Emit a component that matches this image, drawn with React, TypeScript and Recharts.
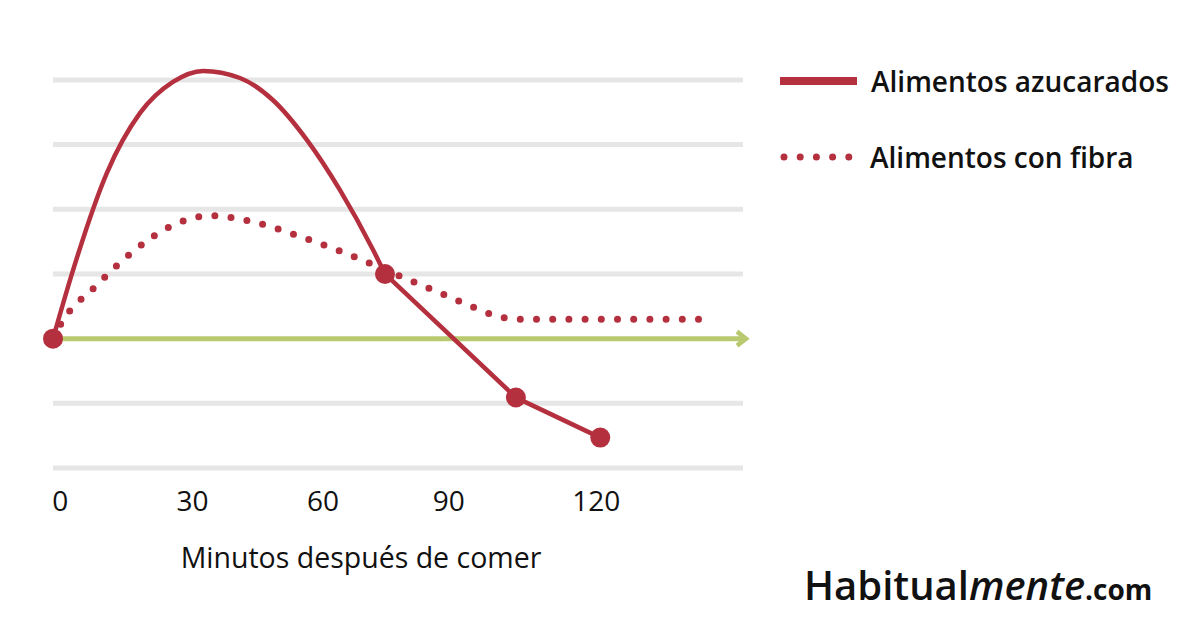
import { LineChart, Line, XAxis, YAxis, ReferenceLine, Label } from "recharts";

const RED = "#b5303e";
const GREEN = "#b8c96f";
const GRID = "#e6e6e6";
const FONT = "'Open Sans', sans-serif";

// minutes after eating vs. blood sugar (green line = baseline 0)
const sugarCurveMinutes = [0, 4.4, 11.8, 19.1, 26.3, 32.9, 41, 48.2, 55.7, 62.9, 70.2, 72.8];
const sugarCurveLevels = [0, 1.06, 2.56, 3.49, 3.97, 4.14, 4.03, 3.69, 3.07, 2.3, 1.37, 1.0];

const sugarDropMinutes = [72.8, 101.5, 120];
const sugarDropLevels = [1.0, -0.91, -1.53];

const fiberMinutes = [0, 1.9, 9.2, 16.9, 25.9, 34.6, 43.6, 53.7, 63.8, 70.4, 77, 83.8, 90.4, 96.9, 101.3, 111.2, 143.2];
const fiberLevels = [0, 0.25, 0.8, 1.31, 1.74, 1.9, 1.81, 1.59, 1.33, 1.14, 0.94, 0.74, 0.54, 0.36, 0.3, 0.3, 0.3];

// tick labels sit where the original drew them
const tickMinutes = [1.6, 30.6, 59.2, 86.8, 119.1];
const tickLabels = ["0", "30", "60", "90", "120"];
const gridLevels = [-2, -1, 1, 2, 3, 4];

const zip = (ms: number[], vs: number[]) => ms.map((m, i) => ({ m, v: vs[i] }));
const sugarCurve = zip(sugarCurveMinutes, sugarCurveLevels);
const sugarDrop = zip(sugarDropMinutes, sugarDropLevels);
const fiber = zip(fiberMinutes, fiberLevels);

const BaselineArrow = (props: any) => {
  const { x1, y1, x2 } = props;
  return (
    <g>
      <line x1={x1} y1={y1} x2={x2 + 2} y2={y1} stroke={GREEN} strokeWidth={5} />
      <polyline
        points={`${x2 - 6},${y1 - 7} ${x2 + 3},${y1} ${x2 - 6},${y1 + 7}`}
        fill="none"
        stroke={GREEN}
        strokeWidth={4.5}
      />
    </g>
  );
};

const LegendBox = () => (
  <div
    style={{
      position: "absolute",
      left: 780,
      top: 43,
      fontSize: 28,
      fontWeight: 600,
      color: "#111",
      whiteSpace: "nowrap",
    }}
  >
    <div style={{ display: "flex", alignItems: "center", height: 76 }}>
      <svg width={91} height={20}>
        <line x1={0} y1={10} x2={77} y2={10} stroke={RED} strokeWidth={8} />
      </svg>
      <span>Alimentos azucarados</span>
    </div>
    <div style={{ display: "flex", alignItems: "center", height: 76 }}>
      <svg width={90} height={20}>
        <line x1={4} y1={10} x2={70} y2={10} stroke={RED} strokeWidth={7} strokeDasharray="0 16.2" strokeLinecap="round" />
      </svg>
      <span>Alimentos con fibra</span>
    </div>
  </div>
);

const startDot = (props: any) => {
  const { cx, cy, index } = props;
  if (index !== 0) return <g key={`d${index}`} />;
  return <circle key={`d${index}`} cx={cx} cy={cy} r={10} fill={RED} />;
};

export default function App() {
  return (
    <div style={{ position: "fixed", left: 0, top: 0, width: 1200, height: 628, background: "#fff", fontFamily: FONT }}>
      <LineChart width={1200} height={628} margin={{ top: 67, right: 457, bottom: 60, left: 53 }}>
        <XAxis
          type="number"
          dataKey="m"
          domain={[0, 151.3]}
          ticks={tickMinutes}
          tickFormatter={(_v: number, i: number) => tickLabels[i]}
          axisLine={false}
          tickLine={false}
          tickSize={0}
          tickMargin={23}
          height={100}
          tick={{ fill: "#111", fontSize: 28, fontFamily: FONT }}
        >
          <Label
            value="Minutos después de comer"
            position="insideBottom"
            offset={0}
            dx={-37}
            style={{ fill: "#111", fontSize: 28.5, fontFamily: FONT }}
          />
        </XAxis>
        <YAxis hide type="number" domain={[-2, 4.2]} />
        {gridLevels.map((g) => (
          <ReferenceLine key={g} y={g} stroke={GRID} strokeWidth={5} />
        ))}
        <ReferenceLine y={0} shape={BaselineArrow} />
        <Line
          data={fiber}
          dataKey="v"
          type="monotone"
          stroke={RED}
          strokeWidth={7}
          strokeDasharray="0 16.2"
          strokeLinecap="round"
          dot={false}
          activeDot={false}
          isAnimationActive={false}
        />
        <Line
          data={sugarCurve}
          dataKey="v"
          type="monotone"
          stroke={RED}
          strokeWidth={4.5}
          dot={startDot}
          activeDot={false}
          isAnimationActive={false}
        />
        <Line
          data={sugarDrop}
          dataKey="v"
          type="linear"
          stroke={RED}
          strokeWidth={4.5}
          dot={{ r: 10, fill: RED, stroke: "none" }}
          activeDot={false}
          isAnimationActive={false}
        />
      </LineChart>
      <LegendBox />
      <div
        style={{
          position: "absolute",
          left: 804,
          top: 557,
          fontSize: 40,
          fontWeight: 600,
          color: "#111",
          whiteSpace: "nowrap",
        }}
      >
        Habitual<span style={{ fontStyle: "italic" }}>mente</span>
        <span style={{ fontSize: 28, fontWeight: 700 }}>.com</span>
      </div>
    </div>
  );
}
